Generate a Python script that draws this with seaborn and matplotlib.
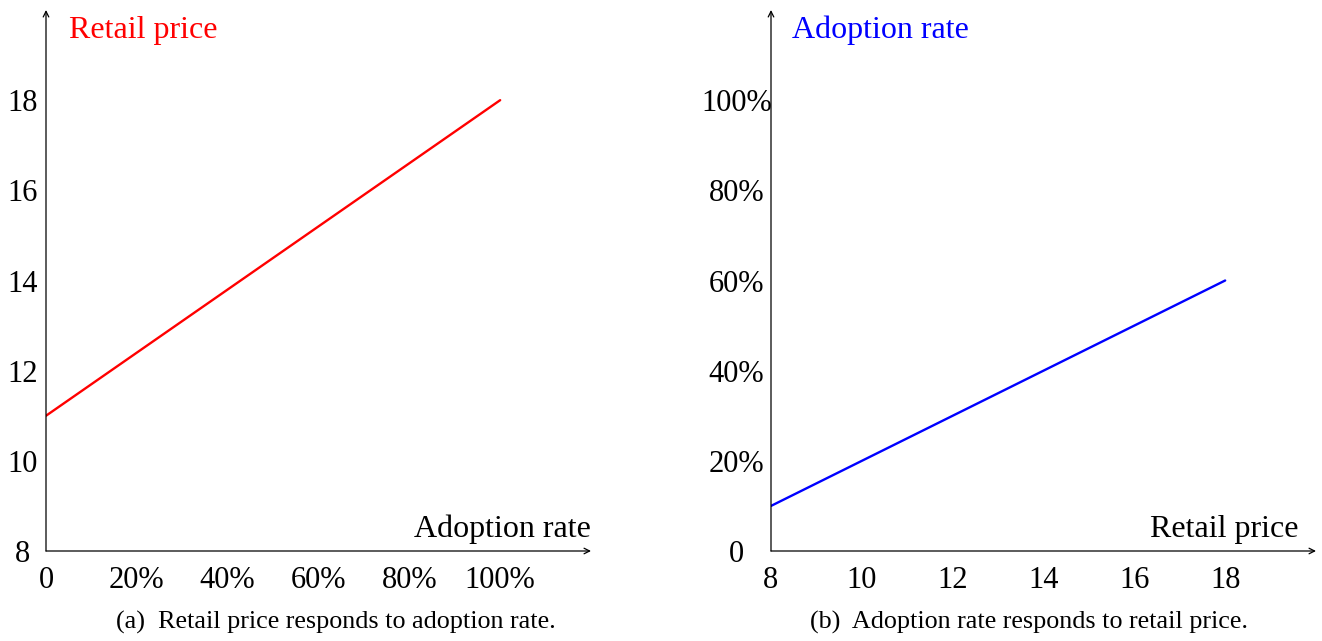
import numpy as np
import pandas as pd
import seaborn as sns
import matplotlib.pyplot as plt

# data
adoption_a = [0.0, 1.0]
price_a = [11, 18]
price_b = [8, 18]
adoption_b = [0.10, 0.60]

pct_ticks = [0, 0.2, 0.4, 0.6, 0.8, 1.0]
pct_labels = ["0", "20%", "40%", "60%", "80%", "100%"]
price_ticks = [8, 10, 12, 14, 16, 18]
price_labels = ["8", "10", "12", "14", "16", "18"]

sns.set_theme(style="white")
plt.rcParams['font.family'] = ['Liberation Serif', 'DejaVu Serif']
plt.rcParams['text.color'] = 'black'

fig = plt.figure(figsize=(13.22, 6.41), dpi=100)
ax1 = fig.add_axes([46 / 1322, 90 / 641, 545 / 1322, 541 / 641])
ax2 = fig.add_axes([771 / 1322, 90 / 641, 545 / 1322, 541 / 641])

df_a = pd.DataFrame({"adoption": adoption_a, "price": price_a})
df_b = pd.DataFrame({"price": price_b, "adoption": adoption_b})

sns.lineplot(data=df_a, x="adoption", y="price", ax=ax1, color="#ff0000", lw=1.7)
sns.lineplot(data=df_b, x="price", y="adoption", ax=ax2, color="#0000ff", lw=1.7)


def style_axes(ax, xlim, ylim, xt, xl, yt, yl, xlab, xlab_x, ylab, ycol, ylab_x, ypad):
    ax.set_xlim(*xlim)
    ax.set_ylim(*ylim)
    ax.set_xticks(xt)
    ax.set_xticklabels(xl)
    ax.set_yticks(yt)
    ax.set_yticklabels(yl)
    ax.set_xlabel("")
    ax.set_ylabel("")
    for s in ax.spines.values():
        s.set_visible(False)
    ax.patch.set_alpha(0)
    ax.tick_params(axis="both", length=0, labelsize=22, colors="black")
    ax.tick_params(axis="x", pad=11)
    ax.tick_params(axis="y", pad=ypad)
    for t in ax.get_yticklabels():
        t.set_ha("center")
    # axes with arrow tips
    ax.annotate("", xy=(1.0, 0), xytext=(0, 0), xycoords="axes fraction",
                arrowprops=dict(arrowstyle="->", lw=0.9, color="black",
                                shrinkA=0, shrinkB=0, mutation_scale=10))
    ax.annotate("", xy=(0, 1.0), xytext=(0, 0), xycoords="axes fraction",
                arrowprops=dict(arrowstyle="->", lw=0.9, color="black",
                                shrinkA=0, shrinkB=0, mutation_scale=10))
    ax.text(xlab_x, 0.026, xlab, transform=ax.transAxes,
            ha="right", va="baseline", fontsize=23, color="black")
    ax.text(ylab_x, 0.948, ylab, transform=ax.transAxes, ha="left",
            va="baseline", fontsize=23, color=ycol)


style_axes(ax1, (0, 1.2), (8, 20), pct_ticks, pct_labels, price_ticks, price_labels,
           "Adoption rate", 1.0, "Retail price", "#ff0000", 0.042, 17)
style_axes(ax2, (8, 20), (0, 1.2), price_ticks, price_labels, pct_ticks, pct_labels,
           "Retail price", 0.968, "Adoption rate", "#0000ff", 0.038, 25)

fig.text(336 / 1322, 1 - 622 / 641, "(a)  Retail price responds to adoption rate.",
         ha="center", va="center", fontsize=18.8, color="black")
fig.text(1029 / 1322, 1 - 622 / 641, "(b)  Adoption rate responds to retail price.",
         ha="center", va="center", fontsize=18.8, color="black")

fig.savefig("out.png", dpi=100)
